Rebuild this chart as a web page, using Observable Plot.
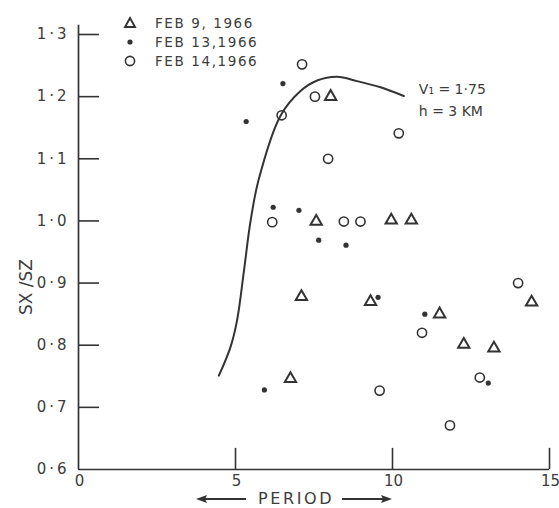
<!DOCTYPE html>
<html><head><meta charset="utf-8">
<script src="https://cdn.jsdelivr.net/npm/d3@7"></script>
<script src="https://cdn.jsdelivr.net/npm/@observablehq/plot@0.6"></script>
<style>
body{margin:0;background:#fff;}
#wrap{position:relative;width:559px;height:508px;font-family:"DejaVu Sans",sans-serif;color:#3c3c3c;}
#wrap > svg{position:absolute;left:0;top:0;}
#legend{position:absolute;left:122px;top:13px;font-size:13.5px;letter-spacing:1.6px;z-index:2;}
.row{display:flex;align-items:center;height:19px;}
.row svg{width:16px;height:16px;margin-right:17px;flex:none;}
#xtitle{position:absolute;left:196px;top:489px;display:flex;align-items:center;font-size:16px;letter-spacing:2.6px;z-index:2;}
#xtitle svg{width:50px;height:12px;flex:none;}
#xtitle span{margin:0 8px 0 12px;}
</style></head><body><div id="wrap"><div id="legend"></div><div id="xtitle"></div></div>
<script>
// series
const seriesNames = ["FEB 9, 1966", "FEB 13,1966", "FEB 14,1966"];
const feb9X = [6.75, 7.10, 7.57, 8.03, 9.30, 9.96, 10.6, 11.5, 12.27, 13.23, 14.43];
const feb9Y = [0.746, 0.878, 0.999, 1.200, 0.870, 1.001, 1.001, 0.850, 0.801, 0.795, 0.869];
const feb13X = [5.34, 5.92, 6.20, 6.51, 7.02, 7.65, 8.52, 9.54, 11.03, 13.05];
const feb13Y = [1.160, 0.728, 1.022, 1.221, 1.017, 0.969, 0.961, 0.877, 0.850, 0.739];
const feb14X = [6.17, 6.47, 7.12, 7.53, 7.95, 8.45, 8.98, 9.59, 10.2, 10.94, 11.83, 12.78, 14.0];
const feb14Y = [0.998, 1.170, 1.252, 1.200, 1.100, 0.999, 0.999, 0.727, 1.141, 0.820, 0.671, 0.748, 0.900];
// theoretical curve
const curveX = [4.47, 4.84, 5.05, 5.27, 5.48, 5.74, 6.43, 7.07, 7.60, 8.24, 8.87, 9.62, 10.36];
const curveY = [0.751, 0.797, 0.840, 0.920, 1.000, 1.067, 1.169, 1.209, 1.226, 1.232, 1.225, 1.215, 1.201];
const annotationLines = ["V\u2081 = 1\u00b775", "h = 3 KM"];
// ticks and titles
const yTicks = [0.6, 0.7, 0.8, 0.9, 1.0, 1.1, 1.2, 1.3];
const yTickLabels = ["0\u2009\u00b7\u20096", "0\u2009\u00b7\u20097", "0\u2009\u00b7\u20098", "0\u2009\u00b7\u20099", "1\u2009\u00b7\u20090", "1\u2009\u00b7\u20091", "1\u2009\u00b7\u20092", "1\u2009\u00b7\u20093"];
const xTicks = [0, 5, 10, 15];
const xTickLabels = ["0", "5", "10", "15"];
const xTitle = "PERIOD";
const yTitle = "SX /SZ";

const zip = (xs, ys) => xs.map((x, i) => ({x, y: ys[i]}));
const feb9 = zip(feb9X, feb9Y), feb13 = zip(feb13X, feb13Y), feb14 = zip(feb14X, feb14Y);
const curve = zip(curveX, curveY);
const yLab = new Map(yTicks.map((t, i) => [t, yTickLabels[i]]));
const xLab = new Map(xTicks.map((t, i) => [t, xTickLabels[i]]));
const ink = "#333";
const txt = "#3c3c3c";

const chart = Plot.plot({
  width: 559, height: 508,
  marginLeft: 78, marginRight: 10, marginTop: 34, marginBottom: 39,
  style: {fontFamily: "DejaVu Sans, sans-serif", fontSize: "14.5px", color: txt, background: "transparent"},
  x: {domain: [0, 15]},
  y: {domain: [0.6, 1.3]},
  marks: [
    Plot.axisY(yTicks, {tickSize: 0, tickPadding: 12, tickFormat: d => yLab.get(d), label: null, fontSize: 15}),
    Plot.axisX(xTicks, {tickSize: 0, tickPadding: 6, tickFormat: d => xLab.get(d), label: null, dx: 1, fontSize: 15}),
    Plot.ruleY([0.6], {stroke: ink, strokeWidth: 1.7}),
    Plot.ruleX([0], {y1: 0.6, y2: 1.315, stroke: ink, strokeWidth: 1.7}),
    Plot.ruleY(yTicks.slice(1), {x1: 0, x2: 0.67, stroke: ink, strokeWidth: 1.6}),
    Plot.ruleX(xTicks.slice(1), {y1: 0.6, y2: 0.634, stroke: ink, strokeWidth: 1.6}),
    Plot.line(curve, {x: "x", y: "y", curve: "catmull-rom", stroke: ink, strokeWidth: 2}),
    Plot.dot(feb9, {x: "x", y: "y", symbol: "triangle", r: 4.2, stroke: ink, strokeWidth: 2, fill: "none"}),
    Plot.dot(feb13, {x: "x", y: "y", r: 2.6, fill: ink, stroke: null}),
    Plot.dot(feb14, {x: "x", y: "y", r: 4.6, stroke: ink, strokeWidth: 1.6, fill: "none"}),
    Plot.text([annotationLines.join("\n")], {text: d => d, x: curveX[curveX.length - 1], y: curveY[curveY.length - 1],
      textAnchor: "start", lineAnchor: "middle", dx: 15, dy: 2, lineHeight: 1.6, fontSize: 14, fill: txt}),
    Plot.text([yTitle], {text: d => d, frameAnchor: "left", rotate: -90, dx: -52, dy: 63, fontSize: 17, fill: txt})
  ]
});
document.getElementById("wrap").appendChild(chart);

// legend
const symbols = [
  '<path d="M8 3 L13 12 L3 12 Z" fill="none" stroke="' + ink + '" stroke-width="1.9"/>',
  '<circle cx="8" cy="8" r="2.6" fill="' + ink + '"/>',
  '<circle cx="8" cy="8" r="4.6" fill="none" stroke="' + ink + '" stroke-width="1.6"/>'
];
const legend = document.getElementById("legend");
seriesNames.forEach((name, i) => {
  const row = document.createElement("div");
  row.className = "row";
  row.innerHTML = '<svg viewBox="0 0 16 16">' + symbols[i] + '</svg><span>' + name + '</span>';
  legend.appendChild(row);
});

// x-axis title with long arrows
const leftArrow = '<svg viewBox="0 0 50 12"><line x1="3" y1="6" x2="50" y2="6" stroke="' + ink + '" stroke-width="1.8"/><path d="M0 6 L11 2 L9 6 L11 10 Z" fill="' + ink + '"/></svg>';
const rightArrow = '<svg viewBox="0 0 50 12"><line x1="0" y1="6" x2="47" y2="6" stroke="' + ink + '" stroke-width="1.8"/><path d="M50 6 L39 2 L41 6 L39 10 Z" fill="' + ink + '"/></svg>';
document.getElementById("xtitle").innerHTML = leftArrow + '<span>' + xTitle + '</span>' + rightArrow;
</script>
</body></html>
